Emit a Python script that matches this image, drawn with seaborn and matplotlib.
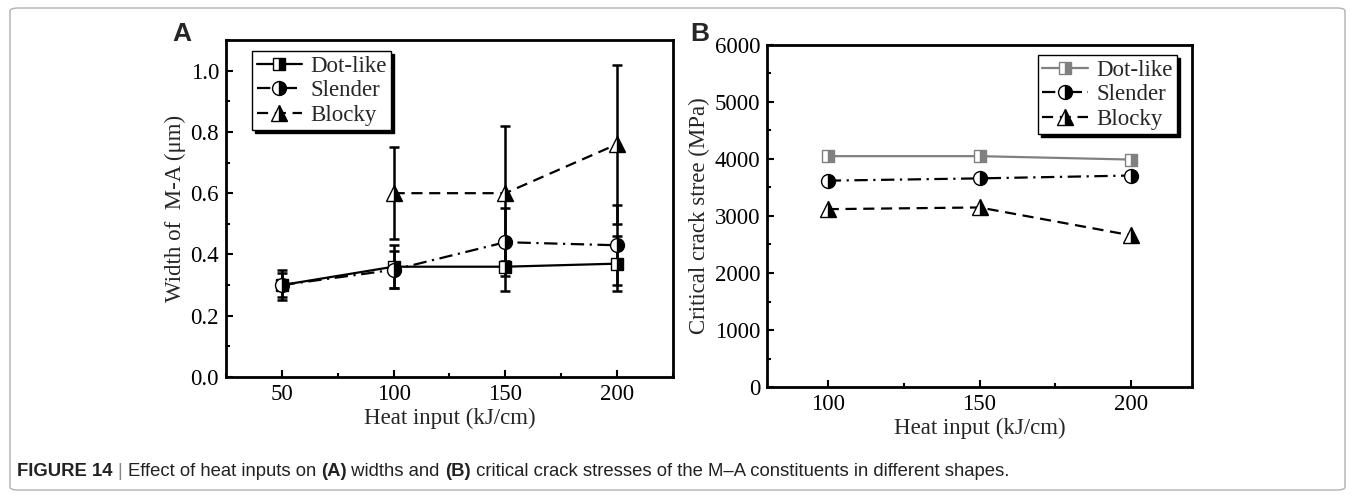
import numpy as np
import matplotlib
matplotlib.use("Agg")
import matplotlib.pyplot as plt
from matplotlib.patches import FancyBboxPatch
from matplotlib.ticker import MultipleLocator
import seaborn as sns

# ---------------- data ----------------
heat_a = [50, 100, 150, 200]
dot_width = [0.30, 0.36, 0.36, 0.37]
dot_err = [0.05, 0.07, 0.08, 0.09]
slender_width = [0.30, 0.35, 0.44, 0.43]
slender_err = [0.04, 0.06, 0.11, 0.13]
blocky_width = [np.nan, 0.60, 0.60, 0.76]
blocky_err = [np.nan, 0.15, 0.22, 0.26]

heat_b = [100, 150, 200]
dot_stress = [4050, 4050, 3990]
slender_stress = [3620, 3660, 3710]
blocky_stress = [3120, 3150, 2660]

series_names = ["Dot-like", "Slender", "Blocky"]
xticks_a = [50, 100, 150, 200]
xticks_b = [100, 150, 200]

# ---------------- style ----------------
sns.set_theme(style="ticks")
plt.rcParams["font.family"] = ["Liberation Serif", "DejaVu Serif"]
plt.rcParams["mathtext.fontset"] = "stix"

fig = plt.figure(figsize=(13.55, 4.98), dpi=100)
W, H = 1355, 498

# outer frame
frame = FancyBboxPatch((10 / W, 8 / H), (1345 - 10) / W, (490 - 8) / H,
                       boxstyle="round,pad=0,rounding_size=0.006",
                       transform=fig.transFigure, facecolor="white",
                       edgecolor="#b0b0b0", linewidth=1.0, zorder=-10)
fig.patches.append(frame)

def px_axes(l, t, r, b):
    return fig.add_axes([l / W, 1 - b / H, (r - l) / W, (b - t) / H])

axA = px_axes(226, 40, 673, 377)
axB = px_axes(767, 45, 1192, 387)

lw = 1.6
fs = 16.5

def style_axes(ax):
    for sp in ax.spines.values():
        sp.set_visible(True)
        sp.set_linewidth(2.0)
        sp.set_color("black")
    ax.tick_params(which="both", direction="in", width=1.5, colors="black",
                   labelsize=fs, top=False, right=False)
    ax.tick_params(which="major", length=5, pad=5)
    ax.tick_params(which="minor", length=3)
    ax.set_facecolor("white")

# ---------------- panel A ----------------
specs = [
    (dot_width, dot_err, "-", "s", "black", 9),
    (slender_width, slender_err, (0, (6, 2.5, 1, 2.5)), "o", "black", 10),
    (blocky_width, blocky_err, (0, (5, 3)), "^", "black", 11),
]
for (vals, errs, ls, mk, col, ms) in specs:
    axA.errorbar(heat_a, vals, yerr=errs, fmt="none", ecolor="black",
                 elinewidth=1.8, capsize=3.5, capthick=1.8, zorder=2)
for name, (vals, errs, ls, mk, col, ms) in zip(series_names, specs):
    sns.lineplot(x=heat_a, y=vals, ax=axA, color=col, linestyle=ls,
                 linewidth=lw, marker=mk, markersize=ms, fillstyle="right",
                 markerfacecolor="black", markerfacecoloralt="white",
                 markeredgecolor="black", markeredgewidth=1.0,
                 label=name, zorder=3)
style_axes(axA)
axA.set_xlim(25, 225)
axA.set_ylim(0, 1.1)
axA.set_xticks(xticks_a)
axA.yaxis.set_major_locator(MultipleLocator(0.2))
axA.yaxis.set_minor_locator(MultipleLocator(0.1))
axA.xaxis.set_minor_locator(MultipleLocator(25))
axA.set_yticklabels([f"{v:.1f}" for v in axA.get_yticks()])
axA.set_xlabel("Heat input (kJ/cm)", fontsize=fs, labelpad=2)
axA.set_ylabel("Width of  M-A (μm)", fontsize=fs, labelpad=3)
legA = axA.legend(loc="upper left", bbox_to_anchor=(0.058, 0.967), fontsize=fs,
                  frameon=True, fancybox=False, shadow={"color": "black", "alpha": 1},
                  handlelength=2.0, handletextpad=0.35, borderpad=0.2,
                  labelspacing=0.15, borderaxespad=0)
legA.get_frame().set_edgecolor("black")
legA.get_frame().set_linewidth(1.0)

# ---------------- panel B ----------------
specsB = [
    (dot_stress, "-", "s", "#808080", 9),
    (slender_stress, (0, (6, 2.5, 1, 2.5)), "o", "black", 10),
    (blocky_stress, (0, (5, 3)), "^", "black", 11),
]
for name, (vals, ls, mk, col, ms) in zip(series_names, specsB):
    sns.lineplot(x=heat_b, y=vals, ax=axB, color=col, linestyle=ls,
                 linewidth=lw, marker=mk, markersize=ms, fillstyle="right",
                 markerfacecolor=col, markerfacecoloralt="white",
                 markeredgecolor=col, markeredgewidth=1.0,
                 label=name, zorder=3)
style_axes(axB)
axB.set_xlim(80, 220)
axB.set_ylim(0, 6000)
axB.set_xticks(xticks_b)
axB.yaxis.set_major_locator(MultipleLocator(1000))
axB.yaxis.set_minor_locator(MultipleLocator(500))
axB.xaxis.set_minor_locator(MultipleLocator(25))
axB.set_xlabel("Heat input (kJ/cm)", fontsize=fs, labelpad=2)
axB.set_ylabel("Critical crack stree (MPa)", fontsize=fs, labelpad=3)
legB = axB.legend(loc="upper right", bbox_to_anchor=(0.965, 0.97), fontsize=fs,
                  frameon=True, fancybox=False, shadow={"color": "black", "alpha": 1},
                  handlelength=2.0, handletextpad=0.35, borderpad=0.2,
                  labelspacing=0.15, borderaxespad=0)
legB.get_frame().set_edgecolor("black")
legB.get_frame().set_linewidth(1.0)

# panel letters
fig.text(182 / W, 1 - 34 / H, "A", fontsize=19, fontweight="bold",
         family="Liberation Sans", ha="center", va="center")
fig.text(700 / W, 1 - 34 / H, "B", fontsize=19, fontweight="bold",
         family="Liberation Sans", ha="center", va="center")

# caption built from pieces
pieces = [
    ("FIGURE 14 ", "bold", "#222222"),
    ("| ", "normal", "#888888"),
    ("Effect of heat inputs on ", "normal", "#222222"),
    ("(A)", "bold", "#222222"),
    (" widths and ", "normal", "#222222"),
    ("(B)", "bold", "#222222"),
    (" critical crack stresses of the M\u2013A constituents in different shapes.", "normal", "#222222"),
]
renderer = fig.canvas.get_renderer()
x = 17 / W
y = 1 - 471 / H
for txt, wt, c in pieces:
    t = fig.text(x, y, txt, fontsize=13.3, fontweight=wt, color=c,
                 family="Liberation Sans", ha="left", va="center")
    bb = t.get_window_extent(renderer=renderer)
    x = bb.x1 / W

fig.savefig("out.png", dpi=100, facecolor="white")
